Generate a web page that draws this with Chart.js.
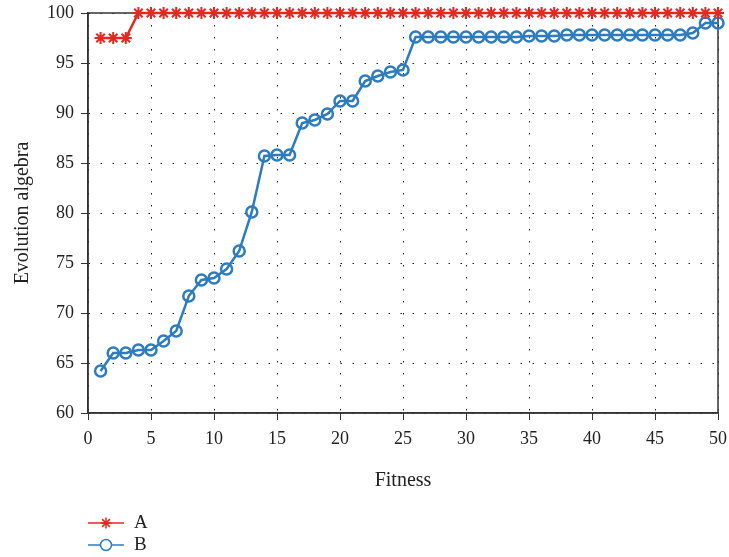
<!DOCTYPE html>
<html>
<head>
<meta charset="utf-8">
<script src="https://cdn.jsdelivr.net/npm/chart.js@4"></script>
<style>
  html, body { margin: 0; padding: 0; background: #fff; }
  #wrap { width: 729px; height: 557px; position: relative; }
</style>
</head>
<body>
<div id="wrap"><canvas id="evoChart"></canvas></div>
<script>
// Data
const generations = Array.from({ length: 50 }, (_, i) => i + 1);
const seriesA = [97.5, 97.5, 97.5, 100, 100, 100, 100, 100, 100, 100,
                 100, 100, 100, 100, 100, 100, 100, 100, 100, 100,
                 100, 100, 100, 100, 100, 100, 100, 100, 100, 100,
                 100, 100, 100, 100, 100, 100, 100, 100, 100, 100,
                 100, 100, 100, 100, 100, 100, 100, 100, 100, 100];
const seriesB = [64.2, 66.0, 66.0, 66.3, 66.3, 67.2, 68.2, 71.7, 73.3, 73.5,
                 74.4, 76.2, 80.1, 85.7, 85.8, 85.8, 89.0, 89.3, 89.9, 91.2,
                 91.2, 93.2, 93.7, 94.1, 94.3, 97.6, 97.6, 97.6, 97.6, 97.6,
                 97.6, 97.6, 97.6, 97.6, 97.7, 97.7, 97.7, 97.8, 97.8, 97.8,
                 97.8, 97.8, 97.8, 97.8, 97.8, 97.8, 97.8, 98.0, 99.0, 99.0];
const xTicks = [0, 5, 10, 15, 20, 25, 30, 35, 40, 45, 50];
const yTicks = [60, 65, 70, 75, 80, 85, 90, 95, 100];

const RED = '#e3281f';
const BLUE = '#2c7cbf';
const FONT = '"Liberation Serif", "DejaVu Serif", serif';

// Box around the plot area
const boxPlugin = {
    id: 'box',
    beforeDatasetsDraw(chart) {
        const { ctx, chartArea: a } = chart;
        ctx.save();
        ctx.strokeStyle = '#333';
        ctx.lineWidth = 1.5;
        ctx.strokeRect(a.left, a.top, a.right - a.left, a.bottom - a.top);
        ctx.restore();
    }
};

// Vertical legend under the axis title
const legendPlugin = {
    id: 'stackLegend',
    afterDraw(chart) {
        const { ctx } = chart;
        const x0 = 88, y0 = 523, gap = 22;
        chart.data.datasets.forEach((ds, i) => {
            const y = y0 + i * gap;
            ctx.save();
            ctx.strokeStyle = ds.borderColor;
            ctx.fillStyle = '#fff';
            ctx.lineWidth = 1.5;
            ctx.beginPath();
            ctx.moveTo(x0, y);
            ctx.lineTo(x0 + 36, y);
            ctx.stroke();
            Chart.helpers.drawPoint(ctx, {
                pointStyle: ds.pointStyle,
                radius: 5.5,
                borderWidth: 1.5
            }, x0 + 18, y);
            ctx.fillStyle = '#222';
            ctx.font = '19px ' + FONT;
            ctx.textBaseline = 'middle';
            ctx.fillText(ds.label, x0 + 46, y);
            ctx.restore();
        });
    }
};

function toPoints(values) {
    return values.map((v, i) => ({ x: generations[i], y: v }));
}

const ctx = document.getElementById('evoChart').getContext('2d');
new Chart(ctx, {
    type: 'line',
    data: {
        datasets: [
            {
                label: 'A',
                data: toPoints(seriesA),
                borderColor: RED,
                backgroundColor: RED,
                borderWidth: 2.5,
                pointStyle: 'star',
                pointRadius: 6,
                pointBorderWidth: 2,
                pointBorderColor: RED,
                tension: 0
            },
            {
                label: 'B',
                data: toPoints(seriesB),
                borderColor: BLUE,
                backgroundColor: 'rgba(255,255,255,0)',
                borderWidth: 2.5,
                pointStyle: 'circle',
                pointRadius: 5.5,
                pointBorderWidth: 2.5,
                pointBorderColor: BLUE,
                pointBackgroundColor: 'rgba(255,255,255,0)',
                tension: 0
            }
        ]
    },
    options: {
        responsive: true,
        maintainAspectRatio: false,
        animation: false,
        clip: false,
        layout: { padding: { top: 13, right: 11, bottom: 64, left: 8 } },
        plugins: {
            legend: { display: false },
            tooltip: { enabled: false }
        },
        scales: {
            x: {
                type: 'linear',
                min: 0,
                max: 50,
                afterBuildTicks: axis => { axis.ticks = xTicks.map(v => ({ value: v })); },
                afterFit: axis => {
                    axis.height = 80;
                    axis.paddingLeft = 0;
                    axis.paddingRight = 0;
                },
                ticks: {
                    color: '#222',
                    font: { family: FONT, size: 18 },
                    padding: 8,
                    maxRotation: 0
                },
                grid: {
                    color: '#222',
                    lineWidth: 1,
                    tickLength: 7,
                    tickColor: '#333'
                },
                border: { display: true, color: '#333', width: 1.5, dash: [1.5, 10.5] },
                title: {
                    display: true,
                    text: 'Fitness',
                    color: '#222',
                    font: { family: FONT, size: 20 },
                    padding: { top: 20, bottom: 0 }
                }
            },
            y: {
                type: 'linear',
                min: 60,
                max: 100,
                afterBuildTicks: axis => { axis.ticks = yTicks.map(v => ({ value: v })); },
                afterFit: axis => {
                    axis.width = 80;
                    axis.paddingTop = 0;
                    axis.paddingBottom = 0;
                },
                ticks: {
                    color: '#222',
                    font: { family: FONT, size: 18 },
                    padding: 7
                },
                grid: {
                    color: '#222',
                    lineWidth: 1,
                    tickLength: 7,
                    tickColor: '#333'
                },
                border: { display: true, color: '#333', width: 1.5, dash: [1.5, 10.5] },
                title: {
                    display: true,
                    text: 'Evolution algebra',
                    color: '#222',
                    font: { family: FONT, size: 20 },
                    padding: { top: 3, bottom: 8 }
                }
            }
        }
    },
    plugins: [boxPlugin, legendPlugin]
});
</script>
</body>
</html>
